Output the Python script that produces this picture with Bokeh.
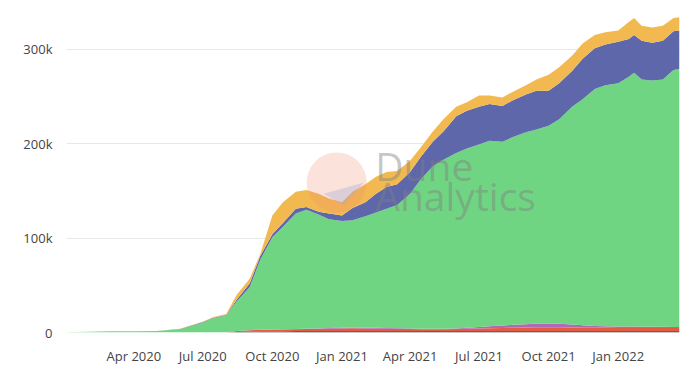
import pandas as pd
from bokeh.plotting import figure
from bokeh.models import ColumnDataSource, Range1d, FixedTicker, DatetimeTickFormatter, Label
from bokeh.embed import file_html
from bokeh.resources import INLINE

dates = ["2020-01-03", "2020-02-01", "2020-03-01", "2020-04-01", "2020-05-01", "2020-06-01",
         "2020-07-01", "2020-07-15", "2020-08-01", "2020-08-15", "2020-09-01", "2020-09-15",
         "2020-10-01", "2020-10-15", "2020-11-01", "2020-11-15", "2020-12-01", "2020-12-15",
         "2021-01-01", "2021-01-15", "2021-02-01", "2021-02-15", "2021-03-01", "2021-03-15",
         "2021-04-01", "2021-04-15", "2021-05-01", "2021-05-15", "2021-06-01", "2021-06-15",
         "2021-07-01", "2021-07-15", "2021-08-01", "2021-08-15", "2021-09-01", "2021-09-15",
         "2021-10-01", "2021-10-15", "2021-11-01", "2021-11-15", "2021-12-01", "2021-12-15",
         "2022-01-01", "2022-01-15", "2022-01-22", "2022-02-01", "2022-02-15", "2022-03-01",
         "2022-03-15", "2022-03-23"]

black = [0, 0, 0, 0, 0, 0, 0, 0, 0, 0.5, 0.8, 1.0,
         1.0, 1.0, 1.2, 1.2, 1.2, 1.3, 1.3, 1.3, 1.3, 1.3, 1.3, 1.2,
         1.2, 1.2, 1.2, 1.2, 1.2, 1.3, 1.3, 1.3, 1.3, 1.3, 1.3, 1.3,
         1.3, 1.3, 1.3, 1.3, 1.3, 1.3, 1.3, 1.3, 1.3, 1.3, 1.3, 1.3, 1.3, 1.3]
red = [0, 0, 0, 0, 0, 0, 0, 0, 0, 1.0, 1.5, 2.0,
       2.0, 2.2, 2.3, 2.5, 2.6, 2.8, 3.0, 3.2, 3.0, 2.8, 2.7, 2.5,
       2.4, 2.2, 2.2, 2.3, 2.5, 2.8, 3.0, 3.2, 3.5, 3.8, 4.0, 4.2,
       4.3, 4.2, 4.0, 3.8, 3.7, 3.6, 3.5, 3.5, 3.5, 3.5, 3.4, 3.4, 3.4, 3.4]
purple = [0, 0, 0, 0, 0, 0, 0, 0, 0, 0, 0, 0.2,
          0.3, 0.3, 0.3, 0.4, 0.5, 0.6, 0.6, 0.7, 0.8, 0.8, 0.8, 0.7,
          0.6, 0.6, 0.5, 0.5, 0.6, 1.0, 1.5, 2.0, 2.5, 3.0, 3.5, 4.0,
          4.0, 3.8, 3.2, 2.5, 2.0, 1.8, 1.6, 1.5, 1.5, 1.4, 1.3, 1.3, 1.2, 1.2]
green = [0.3, 0.8, 1.2, 1.3, 1.5, 3.5, 10.5, 15, 18, 31.5, 45.7, 73.8,
         97.7, 108.5, 122.2, 125.9, 120.7, 115.3, 113.1, 113.8, 117.9, 122.1, 126.2, 130.6,
         142.8, 158, 172.1, 179, 185.7, 189.9, 193.2, 196.5, 194.7, 198.9, 203.2, 205.5,
         209.4, 216.7, 230.5, 239.4, 251, 255.3, 257.6, 264.7, 268.7, 261.8, 261, 262, 272.1, 273.1]
blue = [0, 0, 0, 0.1, 0.1, 0.3, 0.5, 0.5, 0.5, 2, 4, 4,
        3, 4, 5, 3, 3, 6, 6, 13, 15, 20, 23, 22,
        23, 24, 26, 30, 39, 40, 40, 39, 38, 39, 40, 41,
        37, 38, 38, 43, 43, 43, 44, 40, 40, 41, 40, 41, 41, 41]
yellow = [0, 0, 0, 0, 0, 0.2, 0.5, 1.0, 1.0, 5, 5, 2,
          20, 22, 18, 18, 19, 16, 14, 17, 19, 18, 16, 14,
          12, 10, 11, 13, 10, 9, 12, 9, 9, 9, 10, 12,
          17, 17, 16, 16, 14, 13, 12, 18, 18, 16, 16, 16, 14, 14]

series_names = ["black", "red", "purple", "green", "blue", "yellow"]
series_colors = ["#222222", "#e35b43", "#b069b6", "#6fd582", "#5d67aa", "#f2b950"]

x_tick_dates = ["2020-04-01", "2020-07-01", "2020-10-01", "2021-01-01",
                "2021-04-01", "2021-07-01", "2021-10-01", "2022-01-01"]
y_ticks = [0, 100000, 200000, 300000]
y_tick_labels = ["0", "100k", "200k", "300k"]

k = 1000.0
data = {"date": pd.to_datetime(dates)}
for name, vals in zip(series_names, [black, red, purple, green, blue, yellow]):
    data[name] = [v * k for v in vals]
source = ColumnDataSource(data)

x_start = pd.Timestamp(dates[0])
x_end = pd.Timestamp(dates[-1])

p = figure(x_axis_type="datetime", output_backend="svg", toolbar_location=None,
           frame_width=613, frame_height=321,
           min_border_left=66, min_border_right=13, min_border_top=11, min_border_bottom=27,
           x_range=Range1d(x_start, x_end), y_range=Range1d(0, 340000))

p.varea_stack(stackers=series_names, x="date", color=series_colors, source=source)

# watermark (Dune Analytics logo and wordmark)
p.scatter([pd.Timestamp("2020-12-25")], [159000], size=60, fill_color="#f08a70",
          fill_alpha=0.25, line_color=None)
p.patch(x=[pd.Timestamp("2020-12-08"), pd.Timestamp("2021-01-30"), pd.Timestamp("2021-01-03")],
        y=[147000, 159000, 134500], fill_color="#a4aad8", fill_alpha=0.35, line_color=None)
p.add_layout(Label(x=pd.Timestamp("2021-02-14"), y=149000, text="Dune",
                   text_font="Open Sans", text_font_size="39px", text_color="#808080",
                   text_alpha=0.45))
p.add_layout(Label(x=pd.Timestamp("2021-02-14"), y=117000, text="Analytics",
                   text_font="Open Sans", text_font_size="39px", text_color="#808080",
                   text_alpha=0.45))

p.xaxis.ticker = FixedTicker(ticks=[pd.Timestamp(d).value / 1e6 for d in x_tick_dates])
p.xaxis.formatter = DatetimeTickFormatter(days="%b %Y", months="%b %Y", years="%b %Y")
p.yaxis.ticker = FixedTicker(ticks=y_ticks)
p.yaxis.major_label_overrides = {t: l for t, l in zip(y_ticks, y_tick_labels)}

for ax in (p.xaxis, p.yaxis):
    ax.axis_line_color = None
    ax.major_tick_line_color = None
    ax.minor_tick_line_color = None
    ax.major_label_text_font = "Open Sans"
    ax.major_label_text_font_size = "13px"
    ax.major_label_text_color = "#444444"
p.xaxis.major_label_standoff = 8
p.yaxis.major_label_standoff = 8

p.xgrid.grid_line_color = None
p.ygrid.grid_line_color = "#e8e8e8"
p.ygrid.ticker = FixedTicker(ticks=y_ticks)
p.outline_line_color = None
p.background_fill_color = "white"
p.border_fill_color = "white"

open("out.html", "w").write(file_html(p, INLINE))
